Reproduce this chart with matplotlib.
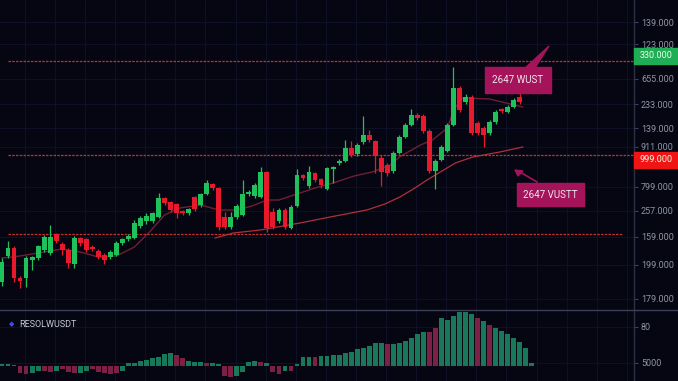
import matplotlib
matplotlib.use("Agg")
import matplotlib.pyplot as plt
from matplotlib.patches import Rectangle, Polygon
from matplotlib.transforms import blended_transform_factory
import numpy as np

plt.rcParams['font.family'] = ['Roboto', 'DejaVu Sans']

# candles (price levels)
opens = [28, 54, 62, 32, 32, 50, 52, 60, 57, 76, 66, 60, 46, 72, 71, 63, 59, 55, 53, 55, 67, 71,
         72, 84, 89, 89, 93, 112, 108, 106, 99, 97, 113, 105, 116, 126, 122, 93, 83, 93, 95, 116,
         114, 113, 138, 98, 89, 100, 82, 104, 135, 124, 137, 131, 121, 141, 147, 149, 162, 156, 168,
         175, 169, 152, 145, 139, 157, 173, 185, 195, 194, 179, 139, 150, 159, 185, 222, 208, 213,
         187, 182, 177, 188, 201, 198, 203, 213]
closes = [48, 62, 32, 29, 52, 53, 64, 73, 73, 69, 60, 47, 72, 67, 60, 61, 53, 50, 58, 67, 71, 74,
          87, 92, 94, 97, 112, 107, 100, 97, 97, 101, 101, 116, 127, 122, 83, 83, 93, 104, 116, 118,
          125, 138, 82, 83, 100, 83, 103, 135, 132, 138, 130, 125, 142, 143, 149, 162, 155, 165, 175,
          170, 155, 138, 137, 157, 173, 185, 195, 192, 179, 139, 149, 163, 185, 222, 200, 213, 177,
          177, 175, 188, 198, 199, 203, 210, 208]
highs = [52, 69, 64, 34, 54, 54, 65, 75, 85, 77, 68, 62, 74, 73, 72, 65, 61, 57, 60, 69, 72, 76,
         90, 94, 97, 98, 117, 113, 109, 107, 100, 102, 114, 117, 130, 127, 123, 98, 98, 106, 130, 120,
         127, 143, 139, 102, 102, 102, 105, 141, 136, 144, 138, 132, 143, 144, 151, 170, 169, 167, 194,
         180, 170, 155, 147, 159, 175, 187, 201, 197, 196, 181, 151, 165, 187, 243, 224, 216, 215,
         189, 184, 190, 200, 202, 205, 212, 218]
lows = [24, 52, 28, 22, 23, 40, 50, 58, 55, 67, 55, 42, 42, 64, 58, 59, 51, 46, 51, 54, 65, 69,
        71, 82, 86, 87, 92, 105, 98, 92, 95, 95, 99, 103, 115, 120, 80, 81, 81, 91, 94, 114,
        112, 112, 78, 81, 87, 81, 81, 103, 130, 122, 128, 122, 120, 127, 145, 148, 153, 154, 166,
        168, 137, 124, 134, 137, 156, 172, 184, 190, 177, 137, 121, 149, 158, 184, 198, 206, 175,
        175, 163, 175, 186, 197, 197, 202, 206]

# moving averages (read at sample points, x = candle index)
ma_fast_x = [0, 3, 7, 10, 13, 16, 19, 22, 24.5, 27, 29.5, 33, 36, 39, 41.5, 44, 46, 48.5, 52, 55,
             58.5, 61.5, 64.5, 66, 69.5, 71.5, 74, 75, 76.5, 81, 86.5]
ma_fast = [52, 54, 58, 61, 58, 53, 54, 63, 78, 95, 102, 105, 100, 100, 104, 110, 110, 115, 122,
           127, 134, 138, 145, 153, 165, 170, 182, 200, 212, 211, 203]
ma_slow_x = [35.4, 38.4, 42.9, 49.5, 54.5, 60.6, 63.6, 66.1, 68.6, 70.6, 72.8, 75.3, 78.2, 82.7, 86.5]
ma_slow = [72, 77, 80, 87, 93, 100, 106, 113, 122, 130, 138, 147, 153, 158, 163]

# levels
level_prices = [249, 155, 76]
level_start = [1, 1, 1]
level_end = [105, 105, 103]

# right axis labels
tick_prices = [288, 266, 231, 206, 182, 163, 123, 99, 73, 45, 11]
tick_labels = ["139.000", "123.000", "655.000", "233.000", "139.000", "911.000", "799.000",
               "257.000", "159.000", "199.000", "179.000"]
last_green = (254, "330.000")
last_red = (150, "999.000")

# oscillator histogram
osc = [2, 2, 1, -7, -8, -7, -5, -5, -6, -5, -3, -6, -7, -7, -5, -3, -6, -7, -8, -7, -5, 3, 3, 5, 6,
       8, 9, 12, 13, 11, 8, 5, 4, 4, 3, 3, 2, -10, -11, -10, -6, 4, 5, 4, 3, -6, -8, -5, -5, 2, 9,
       9, 9, 10, 10, 11, 11,
       13, 14, 17, 18, 20, 23, 23, 22, 22, 23, 25, 28, 32, 34, 34, 38, 48, 46, 50, 54, 54, 52, 48,
       45, 41, 38, 35, 32, 28, 24, 18, 3]
osc_dir = list("GGGRRGGRRGRRRGGRRRRRGGGGGGGGGRRGGGRGGRRGGGGRGRRGRGGGRGGGG"
               "GGGGGGGRGGGGGGRRGGGGGGRGRGGGGGGG")
osc_ticks = [39, 3]
osc_tick_labels = ["80", "5000"]

bg = '#060612'
grid_c = '#10142a'
up_c = '#1fc25a'
dn_c = '#e8192c'
box_c = '#a5145a'
txt_c = '#8f95a8'

W, H = 678, 381
fig = plt.figure(figsize=(W / 100, H / 100), dpi=100, facecolor=bg)
ax = fig.add_axes([0, 71 / H, 634 / W, 310 / H], facecolor=bg)
ax2 = fig.add_axes([0, 0, 634 / W, 71 / H], facecolor=bg, sharex=ax)

n = len(opens)
xs = np.arange(n)
for i in range(n):
    c = up_c if closes[i] >= opens[i] else dn_c
    ax.vlines(xs[i], lows[i], highs[i], color=c, lw=0.9, zorder=3)
    lo, hi = sorted([opens[i], closes[i]])
    ax.add_patch(Rectangle((xs[i] - 0.4, lo), 0.8, max(hi - lo, 1.2), color=c, lw=0, zorder=4))

ax.plot(ma_fast_x, ma_fast, color='#6e1f33', lw=1.0, zorder=2)
ax.plot(ma_slow_x, ma_slow, color='#b0303a', lw=0.9, zorder=2)

for p, s, e in zip(level_prices, level_start, level_end):
    ax.hlines(p, s, e, color='#c4322f', lw=0.9, linestyles=(0, (2, 1)), zorder=2)

ax.set_xlim(-2 / 6.02, 632 / 6.02)
ax.set_ylim(0, 310)
ax.yaxis.tick_right()
ax.set_yticks(tick_prices)
ax.set_yticklabels(tick_labels)
ax.set_xticks(np.arange(3.8, 105, 5))
ax.tick_params(axis='x', length=0, labelbottom=False)
ax.tick_params(axis='y', length=3, color='#3a4058', labelcolor=txt_c, labelsize=6.5, pad=2)
ax.grid(True, color=grid_c, lw=0.6, zorder=0)

bar_cols = ['#17785a' if d == 'G' else '#7c2145' for d in osc_dir]
ax2.bar(np.arange(len(osc)), osc, width=0.8, color=bar_cols, zorder=2)
ax2.set_ylim(-15, 56)
ax2.yaxis.tick_right()
ax2.set_yticks(osc_ticks)
ax2.set_yticklabels(osc_tick_labels)
ax2.tick_params(axis='x', length=0, labelbottom=False)
ax2.tick_params(axis='y', length=3, color='#3a4058', labelcolor=txt_c, labelsize=6.5, pad=2)
ax2.grid(True, color=grid_c, lw=0.6, zorder=0)
ax2.text(0.019, 0.80, "\u25c6", transform=ax2.transAxes, color='#3d4cf0', fontsize=5,
         va='center', ha='center', family='DejaVu Sans')
ax2.text(0.031, 0.80, "RESOLWUSDT", transform=ax2.transAxes, color='#c5c9d6', fontsize=6.5,
         va='center', ha='left')

for a in (ax, ax2):
    for sp in ('top', 'left', 'bottom'):
        a.spines[sp].set_visible(False)
    a.spines['right'].set_color('#2c3148')
    a.spines['right'].set_linewidth(1)

# separator
fig.add_artist(plt.Line2D([0, 1], [71 / H, 71 / H], color='#3a3f55', lw=1))

# last price tags on the right axis
tr = blended_transform_factory(ax.transAxes, ax.transData)
for (p, lab), col in ((last_green, '#1fae55'), (last_red, '#f01414')):
    ax.add_patch(Rectangle((1.0, p - 8), 44 / 634, 16, transform=tr, color=col,
                           clip_on=False, zorder=5))
    ax.text(1.0 + 22 / 634, p, lab, transform=tr, color='#e8ffe8', fontsize=6.5,
            ha='center', va='center', clip_on=False, zorder=6)


def fpx(x, y):
    return (x / W, 1 - y / H)


# callouts
fig.add_artist(Polygon([fpx(522, 71), fpx(533, 71), fpx(549, 46)], closed=True,
                       color=box_c, transform=fig.transFigure))
for (x0, y0, x1, y1), lab in (((485, 67, 551, 93), "2647 WUST"),
                               ((517, 183, 584, 206), "2647 VUSTT")):
    fig.add_artist(Rectangle(fpx(x0, y1), (x1 - x0) / W, (y1 - y0) / H, color=box_c,
                             transform=fig.transFigure))
    fig.text((x0 + x1) / 2 / W, 1 - (y0 + y1) / 2 / H, lab, color='#f0e6ee', fontsize=7,
             ha='center', va='center')
fig.add_artist(plt.Line2D([537 / W, 520 / W], [1 - 182 / H, 1 - 172 / H], color=box_c, lw=1.2))
fig.add_artist(Polygon([fpx(515, 170), fpx(523, 171), fpx(518, 176)], closed=True,
                       color=box_c, transform=fig.transFigure))

fig.savefig("out.png", dpi=100, facecolor=bg)
